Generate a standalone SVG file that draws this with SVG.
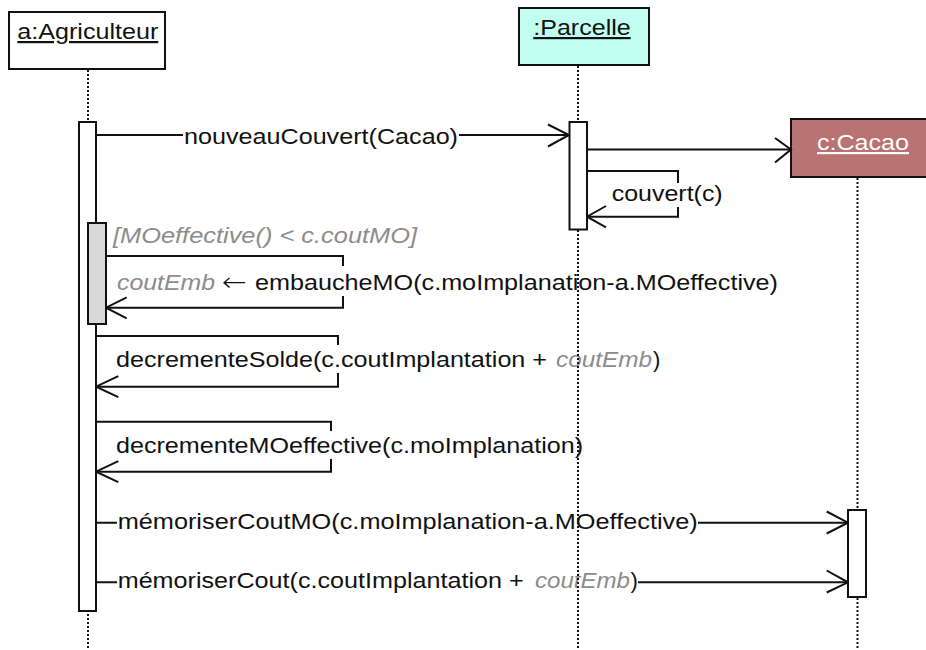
<svg xmlns="http://www.w3.org/2000/svg" width="926" height="650" viewBox="0 0 926 650">
<style>
  .txt { font-family: "Liberation Sans", Arial, sans-serif; font-size: 22px; fill: #111; }
  .gray { fill: #8c8c8c; font-style: italic; }
  .wtxt { fill: #ffffff; }
  .arrowch { font-family: "DejaVu Sans", sans-serif; font-size: 26px; font-weight: 200; fill: #111; }
  .box { stroke: #111; stroke-width: 2; }
  .ln { stroke: #111; stroke-width: 2; fill: none; }
  .life { stroke: #111; stroke-width: 2; stroke-dasharray: 2 2; fill: none; }
  .act { fill: #ffffff; stroke: #111; stroke-width: 2; }
  .bg { fill: #ffffff; }
</style>

<!-- objects (heads) -->
<g id="agriculteur">
  <rect class="box" x="9" y="12" width="156" height="57" fill="#ffffff"/>
  <text class="txt" x="17.3" y="39" textLength="141" lengthAdjust="spacingAndGlyphs" text-decoration="underline">a:Agriculteur</text>
</g>
<g id="parcelle">
  <rect class="box" x="519" y="8" width="130" height="57" fill="#c2fff0"/>
  <text class="txt" x="533.3" y="35" textLength="97.4" lengthAdjust="spacingAndGlyphs" text-decoration="underline">:Parcelle</text>
</g>
<g id="cacao">
  <rect class="box" x="791" y="119" width="140" height="58" fill="#b87372"/>
  <text class="txt wtxt" x="817" y="150" textLength="92" lengthAdjust="spacingAndGlyphs" text-decoration="underline">c:Cacao</text>
</g>

<!-- connectors -->
<g id="connectors">
  <!-- nouveauCouvert(Cacao) -->
  <line class="ln" x1="96" y1="135" x2="569" y2="135"/>
  <polyline class="ln" points="548,124.5 569,135 548,146.5"/>
  <!-- create c:Cacao -->
  <line class="ln" x1="587" y1="149.5" x2="791" y2="149.5"/>
  <polyline class="ln" points="775,138 791,149.5 775,162.5"/>
  <!-- couvert(c) self -->
  <polyline class="ln" points="587,171 678,171 678,216.7 587,216.7"/>
  <polyline class="ln" points="606,206 587,216.7 606,227.3"/>
  <!-- embaucheMO self -->
  <polyline class="ln" points="106,256 343,256 343,307.7 106,307.7"/>
  <polyline class="ln" points="126.7,297.3 106,307.7 126.7,318.3"/>
  <!-- decrementeSolde self -->
  <polyline class="ln" points="96,336 338,336 338,386.7 96,386.7"/>
  <polyline class="ln" points="118.3,376.2 96,386.7 118.3,397.2"/>
  <!-- decrementeMOeffective self -->
  <polyline class="ln" points="96,421.7 331,421.7 331,471.7 96,471.7"/>
  <polyline class="ln" points="118.3,461.2 96,471.7 118.3,482.2"/>
  <!-- memoriserCoutMO -->
  <line class="ln" x1="96" y1="522.7" x2="848" y2="522.7"/>
  <polyline class="ln" points="826.7,511.5 848,522.7 826.7,533.5"/>
  <!-- memoriserCout -->
  <line class="ln" x1="96" y1="582.3" x2="848" y2="582.3"/>
  <polyline class="ln" points="826.7,570.5 848,582.3 826.7,592.5"/>
</g>

<!-- message labels -->
<g id="labels">
  <rect class="bg" x="183" y="124" width="276" height="26"/>
  <text class="txt" x="184" y="143.5" textLength="274" lengthAdjust="spacingAndGlyphs">nouveauCouvert(Cacao)</text>

  <rect class="bg" x="611" y="183" width="113" height="24"/>
  <text class="txt" x="611.7" y="201" textLength="111" lengthAdjust="spacingAndGlyphs">couvert(c)</text>

  <text class="txt gray" x="113" y="243" textLength="304" lengthAdjust="spacingAndGlyphs">[MOeffective() &lt; c.coutMO]</text>

  <rect class="bg" x="116" y="266" width="663" height="30"/>
  <text class="txt gray" x="117" y="290" textLength="98" lengthAdjust="spacingAndGlyphs">coutEmb</text>
  <text class="arrowch" x="222" y="290.5" textLength="25" lengthAdjust="spacingAndGlyphs">←</text>
  <text class="txt" x="255" y="290" textLength="523" lengthAdjust="spacingAndGlyphs">embaucheMO(c.moImplanation-a.MOeffective)</text>

  <rect class="bg" x="115" y="345" width="547" height="28"/>
  <text class="txt" x="116" y="367" textLength="431" lengthAdjust="spacingAndGlyphs">decrementeSolde(c.coutImplantation +</text>
  <text class="txt gray" x="556" y="367" textLength="96" lengthAdjust="spacingAndGlyphs">coutEmb</text>
  <text class="txt" x="653" y="367">)</text>

  <rect class="bg" x="115" y="431" width="469" height="28"/>
  <text class="txt" x="116" y="453" textLength="467" lengthAdjust="spacingAndGlyphs">decrementeMOeffective(c.moImplanation)</text>

  <rect class="bg" x="117" y="508" width="581" height="26"/>
  <text class="txt" x="117.7" y="528.5" textLength="580" lengthAdjust="spacingAndGlyphs">mémoriserCoutMO(c.moImplanation-a.MOeffective)</text>

  <rect class="bg" x="117" y="568" width="521" height="26"/>
  <text class="txt" x="117.7" y="588.3" textLength="406" lengthAdjust="spacingAndGlyphs">mémoriserCout(c.coutImplantation +</text>
  <text class="txt gray" x="535" y="588.3" textLength="95" lengthAdjust="spacingAndGlyphs">coutEmb</text>
  <text class="txt" x="630.5" y="588.3">)</text>
</g>

<!-- lifelines -->
<g id="lifelines">
  <line class="life" x1="88" y1="70" x2="88" y2="648"/>
  <line class="life" x1="578" y1="66" x2="578" y2="648"/>
  <line class="life" x1="857.5" y1="178" x2="857.5" y2="648"/>
</g>

<!-- activations -->
<g id="activations">
  <rect class="act" x="79" y="122" width="17" height="489"/>
  <rect class="act" x="88" y="223" width="18" height="101" style="fill:#d9d9d9"/>
  <rect class="act" x="569.5" y="122" width="17.5" height="107.5"/>
  <rect class="act" x="848" y="510" width="18" height="87"/>
</g>
</svg>
